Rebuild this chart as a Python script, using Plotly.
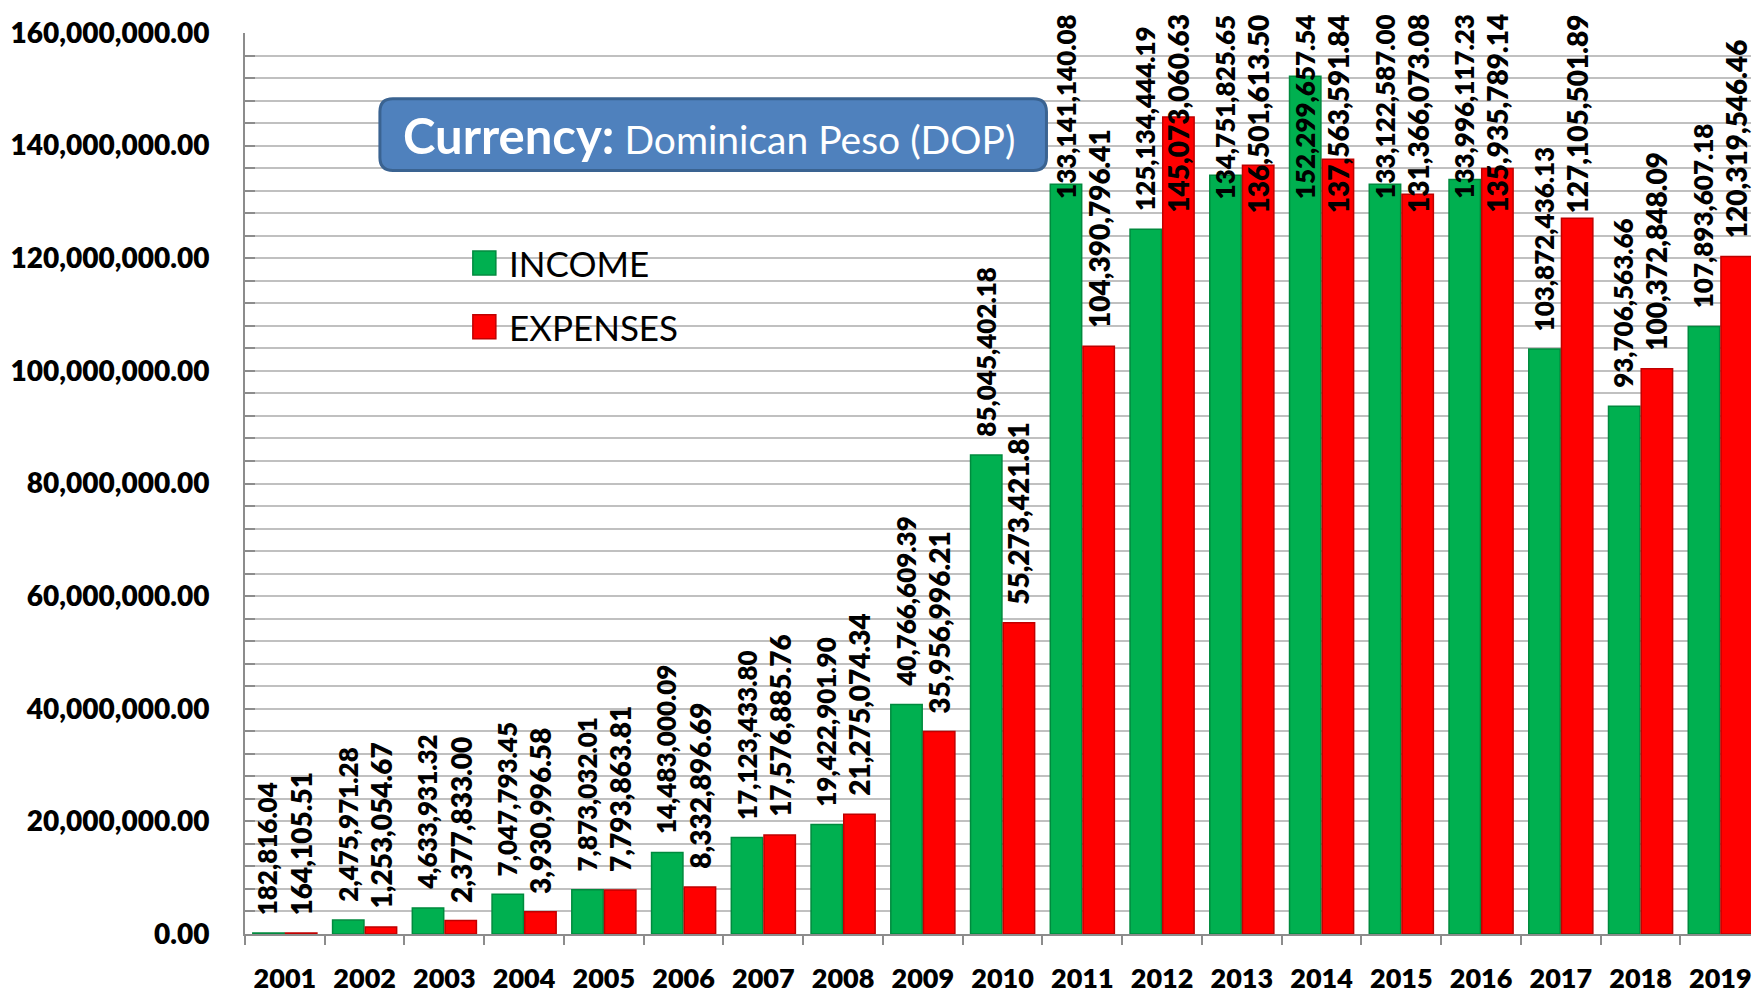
import plotly.graph_objects as go

# Yearly figures (DOP)
years = [str(y) for y in range(2001, 2020)]
income = [182816.04, 2475971.28, 4633931.32, 7047793.45, 7873032.01,
          14483000.09, 17123433.80, 19422901.90, 40766609.39, 85045402.18,
          133141140.08, 125134444.19, 134751825.65, 152299657.54, 133122587.00,
          133996117.23, 103872436.13, 93706563.66, 107893607.18]
expenses = [164105.51, 1253054.67, 2377833.00, 3930996.58, 7793863.81,
            8332896.69, 17576885.76, 21275074.34, 35956996.21, 55273421.81,
            104390796.41, 145073060.63, 136501613.50, 137563591.84, 131366073.08,
            135935789.14, 127105501.89, 100372848.09, 120319546.46]

GREEN = "#00B050"
RED = "#FF0000"
FONT = "Lato"
HEAVY = 800

W, H = 1752, 994
M_L, M_T, M_B, M_R = 245, 33, 56, 0
PW, PH = W - M_L - M_R, H - M_T - M_B
Y_MAX = 160e6


def px(x):
    return (x - M_L) / PW


def py(y):
    return (H - M_B - y) / PH


fig = go.Figure()
fig.add_trace(go.Bar(x=years, y=income, name="INCOME",
                     marker=dict(color=GREEN, line=dict(color="#008A3E", width=1.5))))
fig.add_trace(go.Bar(x=years, y=expenses, name="EXPENSES",
                     marker=dict(color=RED, line=dict(color="#C00000", width=1.5))))

# value labels, rotated; labels that would run past the top are pinned to it
annotations = []
series = [(income, -17, 26, 13.07), (expenses, 16, 28, 14.3)]
for vals, dx, fs, char_px in series:
    for i, v in enumerate(vals):
        txt = f"{v:,.2f}"
        bar_top = v / Y_MAX * PH
        gap = 16
        top_needed = bar_top + gap + len(txt) * char_px
        common = dict(x=i, xref="x", xshift=dx, text=txt, textangle=-90,
                      showarrow=False, xanchor="center",
                      font=dict(family=FONT, size=fs, color="black", weight=HEAVY))
        if top_needed > PH + 21:
            annotations.append(dict(y=1 + 21 / PH, yref="paper", yanchor="top", **common))
        else:
            annotations.append(dict(y=v, yref="y", yanchor="bottom", yshift=gap, **common))

# currency box text
annotations.append(dict(
    x=px(709), y=py(135), xref="paper", yref="paper", xanchor="center", yanchor="middle",
    showarrow=False,
    text="<b><span style='font-size:49px'>Currency:</span></b> Dominican Peso (DOP)",
    font=dict(family=FONT, size=39, color="white")))

# legend text
for label, yc in [("INCOME", 264), ("EXPENSES", 328)]:
    annotations.append(dict(x=px(507), y=py(yc), xref="paper", yref="paper",
                            xanchor="left", yanchor="middle", showarrow=False, text=label,
                            font=dict(family=FONT, size=35, color="black")))

shapes = []
# rounded box behind the currency note
x0, x1, y0, y1, r = 380, 1047, 99, 171, 13
rx, ry = r / PW, r / PH
X0, X1, Y0, Y1 = px(x0), px(x1), py(y1), py(y0)
path = (f"M {X0+rx},{Y0} L {X1-rx},{Y0} Q {X1},{Y0} {X1},{Y0+ry} "
        f"L {X1},{Y1-ry} Q {X1},{Y1} {X1-rx},{Y1} L {X0+rx},{Y1} "
        f"Q {X0},{Y1} {X0},{Y1-ry} L {X0},{Y0+ry} Q {X0},{Y0} {X0+rx},{Y0} Z")
shapes.append(dict(type="path", path=path, xref="paper", yref="paper",
                   fillcolor="#4F81BD", line=dict(color="#3A6391", width=3), layer="above"))

# legend swatches
for color, edge, yt in [(GREEN, "#008A3E", 252), (RED, "#C00000", 316)]:
    shapes.append(dict(type="rect", xref="paper", yref="paper",
                       x0=px(473), x1=px(496), y0=py(yt + 24), y1=py(yt),
                       fillcolor=color, line=dict(color=edge, width=1.5), layer="above"))

fig.update_layout(
    width=W, height=H,
    margin=dict(l=M_L, r=M_R, t=M_T, b=M_B),
    paper_bgcolor="white", plot_bgcolor="white",
    barmode="group", bargap=0.18, bargroupgap=0.04,
    showlegend=False,
    font=dict(family=FONT, color="black"),
    annotations=annotations,
    shapes=shapes,
    xaxis=dict(type="category", range=[-0.5, 18.385],
               showline=True, linecolor="#8C8C8C", linewidth=2,
               ticks="outside", tickson="boundaries", ticklen=9, tickwidth=2,
               tickcolor="#8C8C8C", showgrid=False,
               ticklabelstandoff=20,
               tickfont=dict(family=FONT, size=27, color="black", weight=HEAVY)),
    yaxis=dict(range=[0, Y_MAX], tick0=0, dtick=20e6, tickformat=",.2f",
               showline=True, linecolor="#8C8C8C", linewidth=2,
               ticks="inside", ticklen=10, tickwidth=2, tickcolor="#8C8C8C",
               showgrid=True, gridcolor="#C0C0C0", gridwidth=2, zeroline=False,
               ticklabelstandoff=28,
               minor=dict(dtick=4e6, showgrid=True, gridcolor="#C0C0C0", gridwidth=2,
                          ticks="inside", ticklen=10, tickwidth=2, tickcolor="#8C8C8C"),
               tickfont=dict(family=FONT, size=28, color="black", weight=HEAVY)),
)

fig.write_html("out.html")
